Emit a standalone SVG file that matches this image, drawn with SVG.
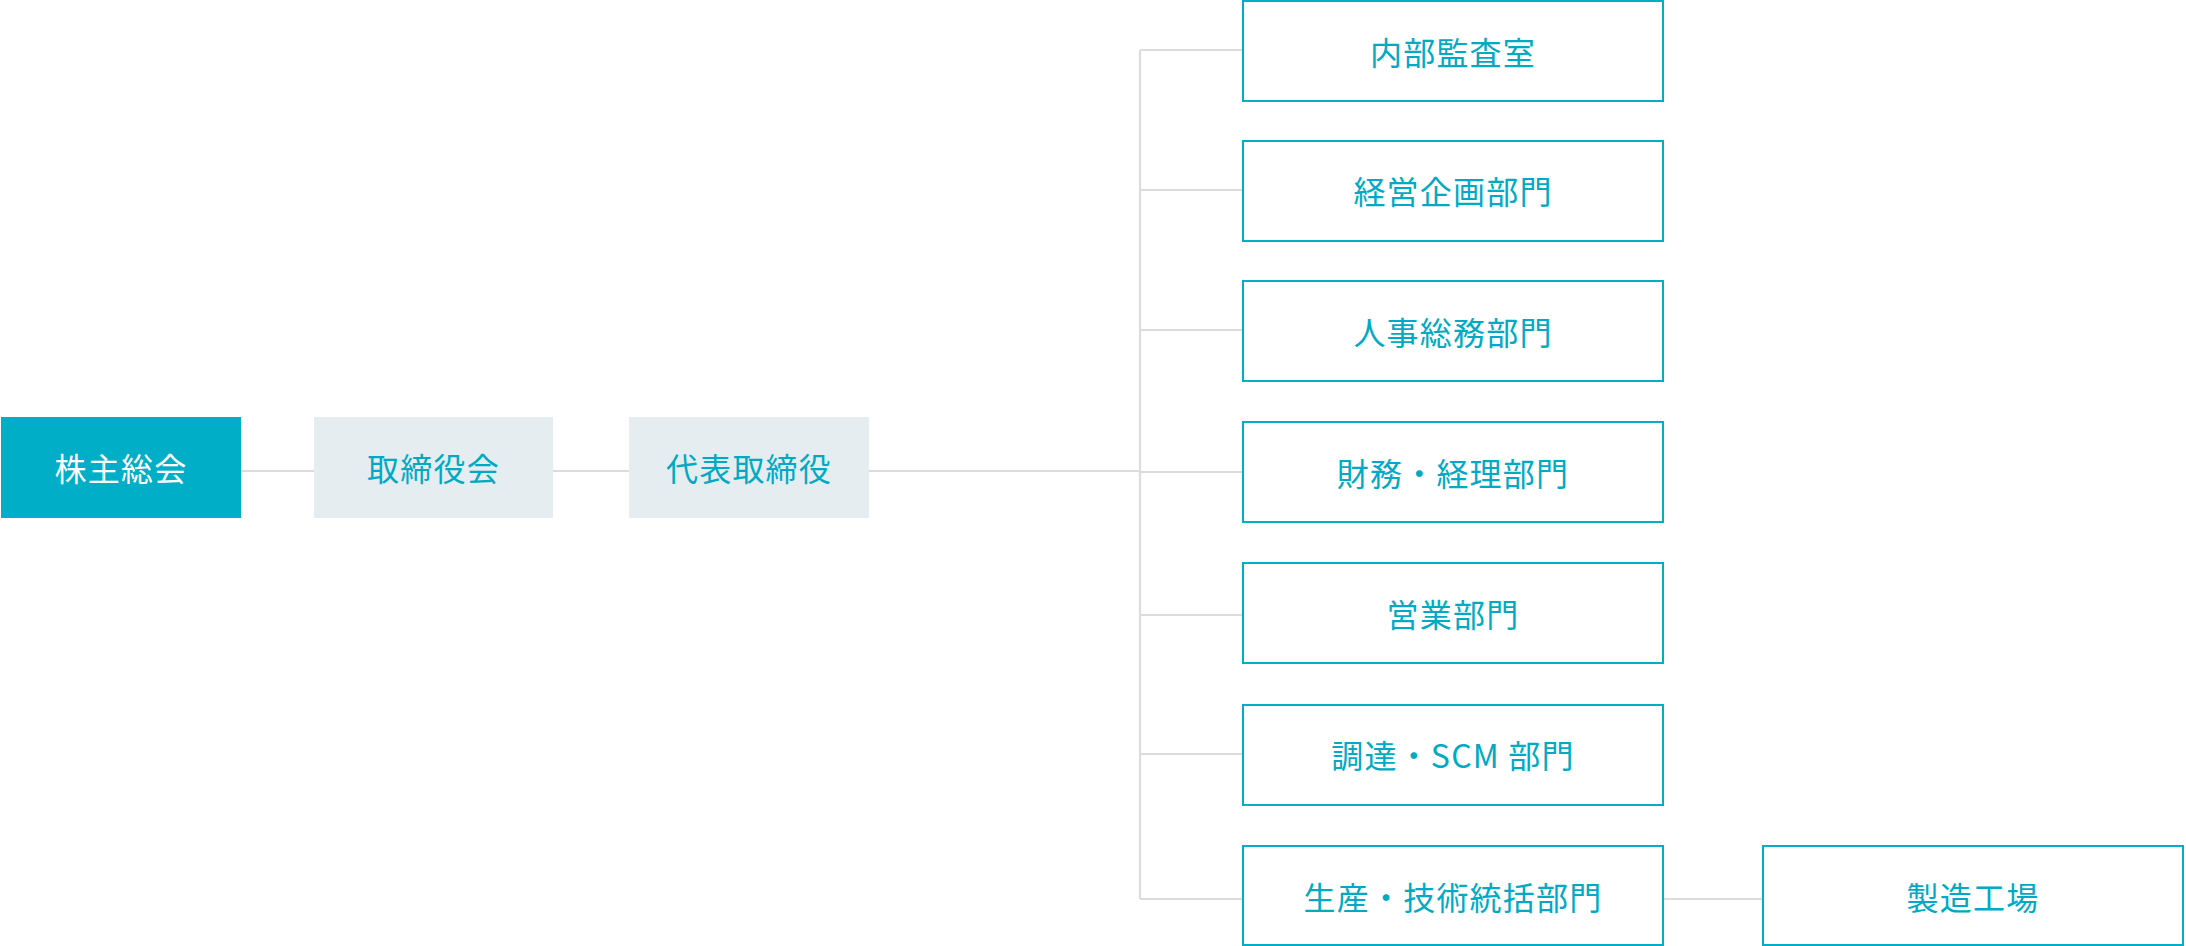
<svg xmlns="http://www.w3.org/2000/svg" width="2186" height="946" viewBox="0 0 2186 946">
<style>
.t{font-family:"Noto Sans CJK JP","Noto Sans",sans-serif;font-size:32px;text-anchor:middle;dominant-baseline:central;fill:#00aac5;letter-spacing:1.2px}
.w{fill:#ffffff}
.dept{fill:#ffffff;stroke:#00aec7;stroke-width:2}
.gray{fill:#e6edf1}
.main{fill:#00aec7}
.c{stroke:#dcdcdc;stroke-width:2.2;fill:none}
</style>
<rect width="2186" height="946" fill="#ffffff"/>
<g id="connectors">
<line class="c" x1="241" y1="471" x2="314" y2="471"/>
<line class="c" x1="553" y1="471" x2="629" y2="471"/>
<line class="c" x1="869" y1="471" x2="1140" y2="471"/>
<line class="c" x1="1140" y1="50" x2="1140" y2="899"/>
<line class="c" x1="1140" y1="50" x2="1242" y2="50"/>
<line class="c" x1="1140" y1="190" x2="1242" y2="190"/>
<line class="c" x1="1140" y1="330" x2="1242" y2="330"/>
<line class="c" x1="1140" y1="472" x2="1242" y2="472"/>
<line class="c" x1="1140" y1="615" x2="1242" y2="615"/>
<line class="c" x1="1140" y1="754" x2="1242" y2="754"/>
<line class="c" x1="1140" y1="899" x2="1242" y2="899"/>
<line class="c" x1="1664" y1="899" x2="1763" y2="899"/>
</g>
<g id="n_kabunushi"><rect class="main" x="1" y="417" width="240" height="101"/><text class="t w" x="121" y="467">株主総会</text></g>
<g id="n_torishimariyakukai"><rect class="gray" x="314" y="417" width="239" height="101"/><text class="t" x="433.5" y="467">取締役会</text></g>
<g id="n_daihyo"><rect class="gray" x="629" y="417" width="240" height="101"/><text class="t" x="749" y="467">代表取締役</text></g>
<g id="n_naibu"><rect class="dept" x="1243" y="1" width="420" height="100"/><text class="t" x="1453" y="51">内部監査室</text></g>
<g id="n_keiei"><rect class="dept" x="1243" y="141" width="420" height="100"/><text class="t" x="1453" y="190">経営企画部門</text></g>
<g id="n_jinji"><rect class="dept" x="1243" y="281" width="420" height="100"/><text class="t" x="1453" y="331">人事総務部門</text></g>
<g id="n_zaimu"><rect class="dept" x="1243" y="422" width="420" height="100"/><text class="t" x="1453" y="472">財務・経理部門</text></g>
<g id="n_eigyo"><rect class="dept" x="1243" y="563" width="420" height="100"/><text class="t" x="1453" y="613">営業部門</text></g>
<g id="n_chotatsu"><rect class="dept" x="1243" y="705" width="420" height="100"/><text class="t" x="1453" y="754">調達・SCM 部門</text></g>
<g id="n_seisan"><rect class="dept" x="1243" y="846" width="420" height="99"/><text class="t" x="1453" y="896">生産・技術統括部門</text></g>
<g id="n_seizo"><rect class="dept" x="1763" y="846" width="420" height="99"/><text class="t" x="1973" y="896">製造工場</text></g>
</svg>
